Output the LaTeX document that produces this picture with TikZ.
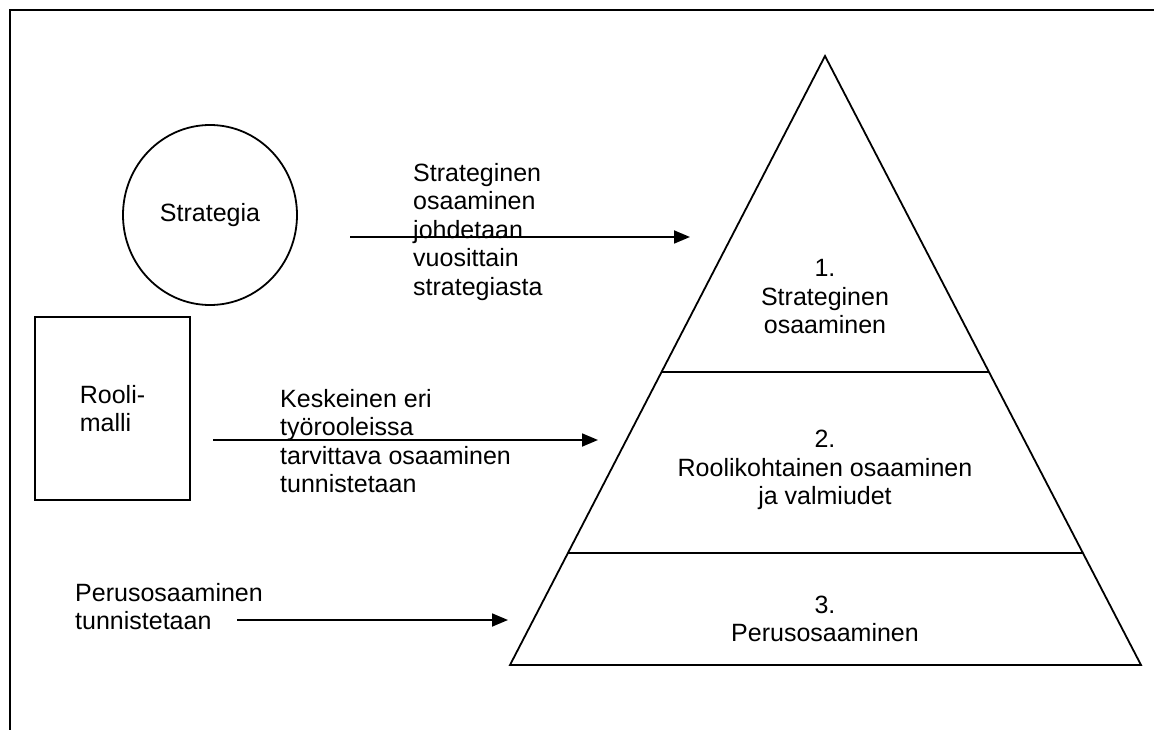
\documentclass[tikz,border=0pt]{standalone}
\usepackage{fontspec}
\setmainfont{Liberation Sans}
\usetikzlibrary{arrows.meta,shapes.geometric,calc}
\begin{document}
\begin{tikzpicture}[x=1pt,y=-1pt,
  every node/.style={font=\fontsize{25}{28.5}\selectfont},
  shp/.style={draw=black,line width=1.8pt},
  lbl/.style={align=left,inner sep=0pt,anchor=north west},
  tier/.style={align=center,inner sep=0pt},
  arr/.style={line width=1.8pt,-{Triangle[length=16pt,width=13pt]}}]
\useasboundingbox (0,0) rectangle (1154,730);
% frame
\draw[line width=2.6pt] (10,730) -- (10,10) -- (1154,10);
% ellipse
\node[shp,ellipse,minimum width=174pt,minimum height=180pt,inner sep=0pt] (strat) at (210,215) {Strategia};
% box
\node[shp,rectangle,minimum width=155pt,minimum height=183pt,align=left] (rooli) at (112.5,408.5) {Rooli-\\malli};
% triangle
\coordinate (apex) at (825,56);
\coordinate (bl) at (510,665);
\coordinate (br) at (1141,665);
\draw[shp,line join=miter] (apex) -- (bl) -- (br) -- cycle;
\draw[shp] ($(apex)!0.5189!(bl)$) coordinate (l1a) -- ($(apex)!0.5189!(br)$) coordinate (l1b);
\draw[shp] ($(apex)!0.8161!(bl)$) coordinate (l2a) -- ($(apex)!0.8161!(br)$) coordinate (l2b);
% tier texts
\node[tier] (t1) at (825,297) {1.\\Strateginen\\osaaminen};
\node[tier] (t2) at (825,470) {2.\\Roolikohtainen osaaminen\\ja valmiudet};
\node[tier] (t3) at (825,619) {3.\\Perusosaaminen};
% arrow labels
\node[lbl] (d1) at (413,163) {Strateginen\\osaaminen\\johdetaan\\vuosittain\\strategiasta};
\node[lbl] (d2) at (280,389) {Keskeinen eri\\työrooleissa\\tarvittava osaaminen\\tunnistetaan};
\node[lbl] (d3) at (75,583) {Perusosaaminen\\tunnistetaan};
% arrows
\coordinate (a1s) at (350,237); \coordinate (a1e) at (690,237);
\coordinate (a2s) at (213,440); \coordinate (a2e) at (598,440);
\coordinate (a3s) at (237,620); \coordinate (a3e) at (508,620);
\draw[arr] (a1s) -- (a1e);
\draw[arr] (a2s) -- (a2e);
\draw[arr] (a3s) -- (a3e);
\end{tikzpicture}
\end{document}
